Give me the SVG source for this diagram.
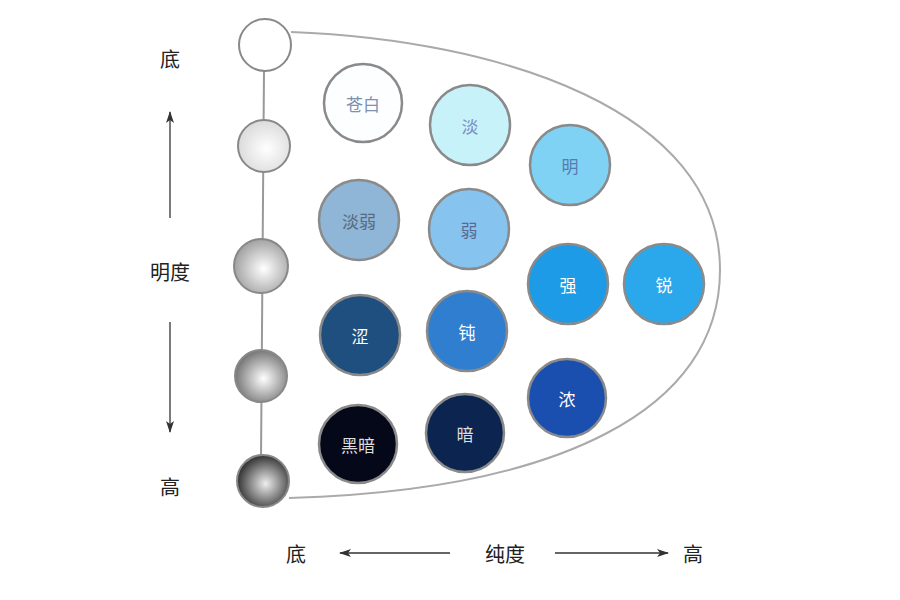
<svg xmlns="http://www.w3.org/2000/svg" width="900" height="600" viewBox="0 0 900 600">
<style>
.t{font-family:"Noto Sans CJK SC",sans-serif;font-size:20px;fill:#222;text-anchor:middle;dominant-baseline:central}
.c{stroke:#8a8a8a;stroke-width:2.5}
.l{font-family:"Noto Sans CJK SC",sans-serif;font-size:17px;text-anchor:middle;dominant-baseline:central}
.ln{stroke:#333;stroke-width:1.3;fill:none}
</style>
<defs>
<radialGradient id="g1" cx="0.55" cy="0.55" r="0.6"><stop offset="0" stop-color="#fff"/><stop offset="1" stop-color="#d8d8d8"/></radialGradient>
<radialGradient id="g2" cx="0.55" cy="0.55" r="0.6"><stop offset="0" stop-color="#fff"/><stop offset="1" stop-color="#9a9a9a"/></radialGradient>
<radialGradient id="g3" cx="0.55" cy="0.55" r="0.6"><stop offset="0" stop-color="#fff"/><stop offset="1" stop-color="#6a6a6a"/></radialGradient>
<radialGradient id="g4" cx="0.55" cy="0.55" r="0.6"><stop offset="0" stop-color="#eee"/><stop offset="1" stop-color="#222"/></radialGradient>
<marker id="a" markerWidth="12" markerHeight="8" refX="11" refY="4" orient="auto" markerUnits="userSpaceOnUse"><path d="M0,0 L12,4 L0,8 L3,4 Z" fill="#333"/></marker>
</defs>
<rect width="900" height="600" fill="#fff"/>
<g id="connectors">
<path d="M291,32 C500,40 720,110 720,270 C720,410 560,490 289,498" fill="none" stroke="#aaa" stroke-width="2"/>
<line x1="264" y1="70" x2="261" y2="460" stroke="#999" stroke-width="2"/>
<line class="ln" x1="170" y1="218" x2="170" y2="112" marker-end="url(#a)"/>
<line class="ln" x1="170" y1="322" x2="170" y2="432" marker-end="url(#a)"/>
<line class="ln" x1="450" y1="553" x2="340" y2="553" marker-end="url(#a)"/>
<line class="ln" x1="555" y1="553" x2="668" y2="553" marker-end="url(#a)"/>
</g>
<g id="spheres" stroke="#888" stroke-width="2">
<circle id="s1" cx="265" cy="45" r="26" fill="#fff"/>
<circle id="s2" cx="264" cy="146" r="26" fill="url(#g1)"/>
<circle id="s3" cx="261" cy="266" r="27" fill="url(#g2)"/>
<circle id="s4" cx="261" cy="376" r="26" fill="url(#g3)"/>
<circle id="s5" cx="263" cy="481" r="26" fill="url(#g4)"/>
</g>
<g id="n1"><circle class="c" cx="363" cy="103" r="39" fill="#fdfeff"/><text class="l" x="363" y="103" fill="#8090b0">苍白</text></g>
<g id="n2"><circle class="c" cx="470" cy="125" r="40" fill="#c8f2fa"/><text class="l" x="470" y="125" fill="#7a90c0">淡</text></g>
<g id="n3"><circle class="c" cx="570" cy="165" r="40" fill="#7fd2f4"/><text class="l" x="570" y="165" fill="#5a7ab0">明</text></g>
<g id="n4"><circle class="c" cx="359" cy="220" r="40" fill="#8fb6d6"/><text class="l" x="359" y="220" fill="#5a6a80">淡弱</text></g>
<g id="n5"><circle class="c" cx="469" cy="229" r="40" fill="#86c4ef"/><text class="l" x="469" y="229" fill="#5a6a90">弱</text></g>
<g id="n6"><circle class="c" cx="568" cy="284" r="40" fill="#1d9be6"/><text class="l" x="568" y="284" fill="#fff">强</text></g>
<g id="n7"><circle class="c" cx="664" cy="284" r="40" fill="#2ba7ec"/><text class="l" x="664" y="284" fill="#fff">锐</text></g>
<g id="n8"><circle class="c" cx="360" cy="335" r="40" fill="#1f4f7e"/><text class="l" x="360" y="335" fill="#fff">涩</text></g>
<g id="n9"><circle class="c" cx="467" cy="331" r="40" fill="#2f7ed0"/><text class="l" x="467" y="331" fill="#fff">钝</text></g>
<g id="n10"><circle class="c" cx="567" cy="398" r="39" fill="#1a4fb0"/><text class="l" x="567" y="398" fill="#fff">浓</text></g>
<g id="n11"><circle class="c" cx="358" cy="444" r="39" fill="#050818"/><text class="l" x="358" y="444" fill="#ddd">黑暗</text></g>
<g id="n12"><circle class="c" cx="465" cy="433" r="39" fill="#0c2450"/><text class="l" x="465" y="433" fill="#ddd">暗</text></g>
<g id="labels">
<text class="t" x="170" y="58">底</text>
<text class="t" x="170" y="271">明度</text>
<text class="t" x="170" y="486">高</text>
<text class="t" x="296" y="553">底</text>
<text class="t" x="505" y="553">纯度</text>
<text class="t" x="693" y="553">高</text>
</g>
</svg>
